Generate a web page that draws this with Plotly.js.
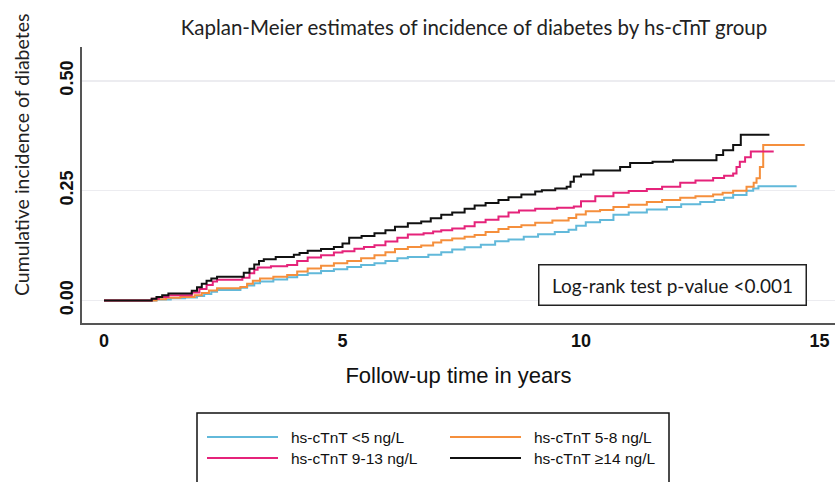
<!DOCTYPE html>
<html>
<head>
<meta charset="utf-8">
<script src="https://cdn.plot.ly/plotly-3.0.1.min.js"></script>
<style>html,body{margin:0;padding:0;background:#fff;}#chart{width:835px;height:482px;}</style>
</head>
<body>
<div id="chart"></div>
<script>
// ---- data ----
var seriesNames = ["hs-cTnT <5 ng/L", "hs-cTnT 5-8 ng/L", "hs-cTnT 9-13 ng/L", "hs-cTnT \u226514 ng/L"];
var seriesColors = ["#62b9da", "#f58f3c", "#e5237a", "#111111"];

var tLow = [0,1.1,1.4,1.7,1.95,2.1,2.25,2.37,2.86,3.0,3.15,3.27,3.55,3.84,4.05,4.27,4.55,4.82,5.1,5.39,5.67,5.9,6.15,6.37,6.8,7.07,7.3,7.56,7.9,8.2,8.48,8.8,9.1,9.45,9.74,9.9,10.1,10.4,10.68,11.0,11.38,11.8,12.1,12.5,12.8,13.0,13.19,13.47,13.61,13.72,14.52];
var vLow = [0,0.002,0.005,0.007,0.01,0.015,0.02,0.024,0.029,0.034,0.039,0.043,0.048,0.053,0.058,0.062,0.067,0.071,0.076,0.081,0.085,0.09,0.096,0.099,0.104,0.11,0.116,0.121,0.127,0.135,0.139,0.145,0.151,0.156,0.161,0.17,0.178,0.183,0.195,0.2,0.207,0.213,0.219,0.224,0.229,0.234,0.24,0.25,0.255,0.26,0.26];

var tMid = [0,1.1,1.3,1.6,1.9,2.05,2.2,2.37,2.86,3.0,3.12,3.27,3.55,3.84,4.05,4.27,4.55,4.82,5.1,5.39,5.67,5.9,6.1,6.37,6.65,6.9,7.07,7.3,7.56,7.77,8.0,8.27,8.48,8.75,9.04,9.4,9.74,9.9,10.1,10.4,10.68,11.0,11.38,11.7,12.08,12.4,12.77,12.97,13.19,13.47,13.62,13.68,13.75,13.82,14.69];
var vMid = [0,0.003,0.006,0.008,0.012,0.017,0.023,0.028,0.031,0.038,0.045,0.05,0.054,0.058,0.066,0.073,0.079,0.085,0.09,0.096,0.103,0.11,0.117,0.122,0.125,0.132,0.137,0.141,0.145,0.149,0.156,0.163,0.167,0.171,0.177,0.182,0.188,0.196,0.203,0.206,0.213,0.218,0.224,0.229,0.234,0.237,0.241,0.245,0.25,0.259,0.268,0.278,0.304,0.354,0.354];

var tHigh = [0,1.0,1.15,1.35,1.84,2.0,2.15,2.28,2.37,2.9,3.05,3.15,3.22,3.5,3.84,4.05,4.27,4.55,4.82,5.0,5.25,5.45,5.67,5.9,6.15,6.37,6.7,6.9,7.07,7.3,7.56,7.77,8.0,8.27,8.48,8.7,9.04,9.5,9.85,10.0,10.3,10.68,11.0,11.38,11.7,12.08,12.4,12.77,13.0,13.19,13.26,13.33,13.44,13.56,14.04];
var vHigh = [0,0.004,0.008,0.012,0.018,0.026,0.035,0.043,0.047,0.052,0.062,0.07,0.075,0.078,0.081,0.09,0.098,0.103,0.109,0.112,0.118,0.122,0.126,0.134,0.143,0.15,0.153,0.157,0.16,0.164,0.169,0.178,0.184,0.191,0.2,0.205,0.209,0.211,0.214,0.226,0.237,0.245,0.249,0.254,0.259,0.268,0.273,0.279,0.284,0.289,0.304,0.316,0.326,0.339,0.339];

var tTop = [0,1.0,1.1,1.22,1.35,1.84,1.95,2.05,2.15,2.25,2.37,2.93,3.05,3.15,3.25,3.35,3.6,3.98,4.1,4.27,4.55,4.82,5.0,5.14,5.4,5.67,5.9,6.1,6.37,6.65,6.85,7.07,7.3,7.56,7.77,8.0,8.27,8.48,8.75,9.04,9.18,9.46,9.7,9.78,9.85,10.0,10.26,10.82,11.03,11.5,11.93,12.84,12.98,13.19,13.35,13.95];
var vTop = [0,0.004,0.008,0.012,0.016,0.022,0.03,0.038,0.045,0.05,0.054,0.063,0.072,0.082,0.09,0.094,0.099,0.104,0.108,0.113,0.117,0.122,0.13,0.143,0.147,0.153,0.16,0.168,0.176,0.18,0.187,0.195,0.2,0.209,0.216,0.222,0.229,0.235,0.241,0.248,0.251,0.255,0.259,0.27,0.282,0.287,0.296,0.304,0.313,0.316,0.319,0.331,0.342,0.354,0.377,0.377];

var xTicks = [0, 5, 10, 15];
var yTicks = [0, 0.25, 0.5];
var yTickText = ["0.00", "0.25", "0.50"];
var titleText = "Kaplan-Meier estimates of incidence of diabetes by hs-cTnT group";
var xTitle = "Follow-up time in years";
var yTitle = "Cumulative incidence of diabetes";
var noteText = "Log-rank test p-value <0.001";

// ---- geometry ----
var W = 835, H = 482, ML = 82, MT = 47, PW = 753, PH = 276;
function px(x) { return (x - ML) / PW; }
function py(y) { return (MT + PH - y) / PH; }

var xs = [tLow, tMid, tHigh, tTop];
var ys = [vLow, vMid, vHigh, vTop];
var traces = xs.map(function (t, i) {
  return {
    x: t, y: ys[i], type: "scatter", mode: "lines", name: seriesNames[i],
    line: { color: seriesColors[i], width: 2, shape: "hv" }, showlegend: false, hoverinfo: "skip"
  };
});

// custom legend (two columns, two rows)
var legShapes = [{
  type: "rect", xref: "paper", yref: "paper",
  x0: px(197), x1: px(669), y0: py(413), y1: py(540),
  line: { color: "#111", width: 1.5 }, fillcolor: "rgba(0,0,0,0)", layer: "above"
}];
var legAnn = [];
var colLine = [207, 450], colText = [289, 532], rowY = [437, 458];
var order = [0, 1, 2, 3];
order.forEach(function (k, idx) {
  var c = idx % 2, r = Math.floor(idx / 2);
  legShapes.push({
    type: "line", xref: "paper", yref: "paper",
    x0: px(colLine[c]), x1: px(colLine[c] + 71), y0: py(rowY[r]), y1: py(rowY[r]),
    line: { color: seriesColors[k], width: 2 }
  });
  legAnn.push({
    xref: "paper", yref: "paper", x: px(colText[c]), y: py(rowY[r]),
    xanchor: "left", yanchor: "middle", showarrow: false, text: seriesNames[k],
    font: { family: "Liberation Sans, Arial, sans-serif", size: 15.5, color: "#111" }
  });
});

var annotations = legAnn.concat([
  {
    xref: "paper", yref: "paper", x: px(672.5), y: py(285), xanchor: "center", yanchor: "middle",
    showarrow: false, text: noteText,
    font: { family: "Lato, Open Sans, sans-serif", size: 19, color: "#1a1a1a" },
    bordercolor: "#222", borderwidth: 1.5, borderpad: 8, bgcolor: "#fff",
    width: 250
  },
  {
    xref: "paper", yref: "paper", x: px(21), y: py(155), xanchor: "center", yanchor: "middle",
    showarrow: false, text: yTitle, textangle: -90,
    font: { family: "Lato, Open Sans, sans-serif", size: 19.5, color: "#222" }
  }
]);

var layout = {
  width: W, height: H,
  margin: { l: ML, r: W - ML - PW, t: MT, b: H - MT - PH, pad: 0 },
  paper_bgcolor: "#fff", plot_bgcolor: "#fff",
  title: {
    text: titleText, xref: "container", yref: "container", x: 474 / W, y: 1 - 28 / H,
    xanchor: "center", yanchor: "middle",
    font: { family: "Lato, Open Sans, sans-serif", size: 20.5, color: "#222" }
  },
  xaxis: {
    range: [-22 / 47.7, (W - 104) / 47.7], tickvals: xTicks, ticktext: xTicks.map(String),
    showgrid: false, zeroline: false, showline: true, linecolor: "#555", linewidth: 2,
    ticks: "", ticklen: 0,
    tickfont: { family: "Liberation Sans, Arial, sans-serif", size: 18, color: "#111", weight: "bold" },
    title: { text: xTitle, standoff: 18, font: { family: "Liberation Sans, Arial, sans-serif", size: 22, color: "#111" } }
  },
  yaxis: {
    range: [(300.5 - (MT + PH)) / 439.4, (300.5 - MT) / 439.4],
    tickvals: yTicks, ticktext: yTickText, tickangle: -90,
    showgrid: true, gridcolor: "#ececf0", gridwidth: 1.5, zeroline: false,
    showline: true, linecolor: "#555", linewidth: 2, ticks: "", ticklen: 0,
    tickfont: { family: "Liberation Sans, Arial, sans-serif", size: 18, color: "#111", weight: "bold" }
  },
  shapes: legShapes,
  annotations: annotations,
  showlegend: false
};

Plotly.newPlot("chart", traces, layout, { staticPlot: true, displayModeBar: false });
</script>
</body>
</html>
